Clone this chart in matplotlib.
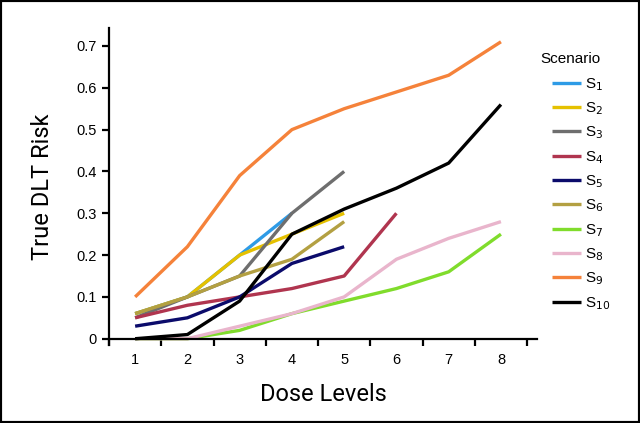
import matplotlib.pyplot as plt
from matplotlib.patches import Rectangle

# true DLT risk per dose level for each scenario
s1 = [0.06, 0.10, 0.20, 0.30]
s2 = [0.06, 0.10, 0.20, 0.25, 0.30]
s3 = [0.05, 0.10, 0.15, 0.30, 0.40]
s4 = [0.05, 0.08, 0.10, 0.12, 0.15, 0.30]
s5 = [0.03, 0.05, 0.10, 0.18, 0.22]
s6 = [0.06, 0.10, 0.15, 0.19, 0.28]
s7 = [0.00, 0.00, 0.02, 0.06, 0.09, 0.12, 0.16, 0.25]
s8 = [0.00, 0.00, 0.03, 0.06, 0.10, 0.19, 0.24, 0.28]
s9 = [0.10, 0.22, 0.39, 0.50, 0.55, 0.59, 0.63, 0.71]
s10 = [0.00, 0.01, 0.09, 0.25, 0.31, 0.36, 0.42, 0.56]

scenarios = [s1, s2, s3, s4, s5, s6, s7, s8, s9, s10]
labels = ['S$_{%d}$' % (i + 1) for i in range(10)]
colors = ['#2e9be6', '#e5c100', '#6e6e6e', '#b0354f', '#0b0b6b',
          '#b3a042', '#80dc2c', '#e9b5cc', '#f5823a', '#000000']

label_font = ['Roboto', 'DejaVu Sans']
tick_font = ['Liberation Sans', 'DejaVu Sans']

fig = plt.figure(figsize=(6.4, 4.23), dpi=100)
ax = fig.add_axes([109 / 640, 1 - 345 / 423, (537 - 109) / 640, (345 - 28) / 423])

for vals, lab, col in zip(scenarios, labels, colors):
    doses = list(range(1, len(vals) + 1))
    ax.plot(doses, vals, color=col, lw=2.4, label=lab, solid_capstyle='butt')

ax.set_xlim(0.5, 8.69)
ax.set_ylim(-0.015, 0.743)
ax.spines['top'].set_visible(False)
ax.spines['right'].set_visible(False)
ax.spines['bottom'].set_position(('data', 0))
for sp in ('left', 'bottom'):
    ax.spines[sp].set_linewidth(1.6)

ax.set_yticks([0, 0.1, 0.2, 0.3, 0.4, 0.5, 0.6, 0.7])
ax.set_yticklabels(['0', '0.1', '0.2', '0.3', '0.4', '0.5', '0.6', '0.7'],
                   family=tick_font, fontsize=10.5)
ax.set_xticks(range(1, 9))
ax.set_xticklabels([str(i) for i in range(1, 9)], family=tick_font, fontsize=10.5)
ax.set_xticks([i + 0.5 for i in range(0, 9)], minor=True)
ax.tick_params(axis='x', which='major', length=0, pad=10)
ax.tick_params(axis='x', which='minor', length=5, width=1.6, direction='out')
ax.tick_params(axis='y', length=5, width=1.6, direction='out', pad=4)

ax.set_xlabel('Dose Levels', family=label_font, fontsize=17, labelpad=12)
ax.set_ylabel('True DLT Risk', family=label_font, fontsize=17, labelpad=16)

# legend title sits a bit left of the entries
fig.text(540 / 640, 1 - 59 / 423, 'Scenario', family=tick_font, fontsize=11,
         ha='left', va='center')
leg = ax.legend(loc='upper left', bbox_to_anchor=(552 / 640, 1 - 76 / 423),
                bbox_transform=fig.transFigure, frameon=False,
                fontsize=11, handlelength=1.9, handletextpad=0.25,
                labelspacing=0.5, borderpad=0, borderaxespad=0)
for t in leg.get_texts():
    t.set_family(tick_font)

fig.patches.append(Rectangle((0, 0), 1, 1, transform=fig.transFigure,
                             fill=False, edgecolor='black', lw=3))

fig.savefig('out.png', dpi=100)
